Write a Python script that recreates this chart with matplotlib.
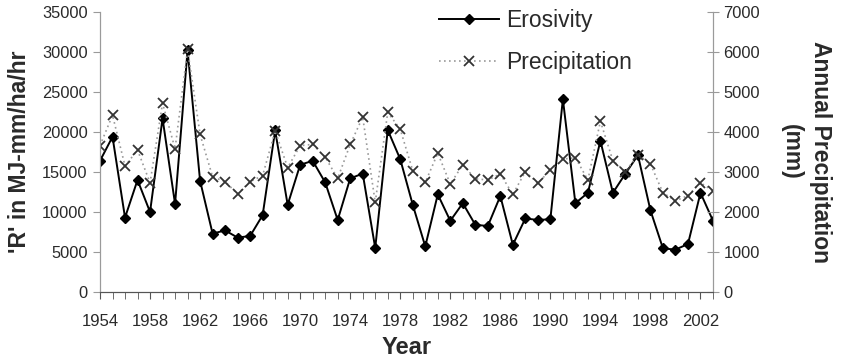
import numpy as np
import matplotlib
matplotlib.use("Agg")
import matplotlib.pyplot as plt
from matplotlib.ticker import MultipleLocator, FixedLocator

# --- data ---
years = list(range(1954, 2004))
erosivity = [16400, 19400, 9300, 14000, 10000, 21700, 11000, 30200, 13900, 7300,
             7700, 6800, 7000, 9600, 20200, 10900, 15900, 16400, 13700, 9000,
             14200, 14800, 5500, 20250, 16600, 10900, 5700, 12200, 8900, 11100,
             8400, 8250, 12000, 5900, 9200, 9000, 9100, 24100, 11100, 12400,
             18900, 12400, 14800, 17100, 10200, 5450, 5300, 6000, 12400, 8900]
precip = [3660, 4420, 3150, 3550, 2730, 4720, 3580, 6070, 3940, 2880,
          2760, 2450, 2760, 2910, 4030, 3110, 3660, 3690, 3370, 2840,
          3690, 4370, 2240, 4490, 4070, 3030, 2740, 3470, 2700, 3180,
          2830, 2800, 2950, 2440, 3010, 2720, 3050, 3320, 3360, 2800,
          4270, 3280, 3010, 3430, 3200, 2480, 2280, 2410, 2730, 2530]
year_ticks = list(range(1954, 2003, 4))

FONT = ["Liberation Sans", "DejaVu Sans"]
plt.rcParams["font.family"] = FONT
TXT = "#2a2a2a"; AXC = "#9a9a9a"

fig = plt.figure(figsize=(8.45, 3.62), dpi=100)
ax = fig.add_axes([100/845, 70/362, 613/845, 280/362])
ax2 = ax.twinx()

l1, = ax.plot(years, erosivity, color="black", lw=1.4, marker="D", ms=5.5,
              mfc="black", mec="black", label="Erosivity", zorder=3)
l2, = ax2.plot(years, precip, color="#9a9a9a", lw=1.2, ls=(0, (1, 2)), marker="x",
               ms=7.5, mec="#333333", mew=1.3, label="Precipitation", zorder=2)

ax.set_xlim(1954, 2003)
ax.set_ylim(0, 35000); ax2.set_ylim(0, 7000)
ax.set_yticks(range(0, 35001, 5000)); ax2.set_yticks(range(0, 7001, 1000))
ax.xaxis.set_major_locator(FixedLocator(year_ticks))
ax.xaxis.set_minor_locator(MultipleLocator(1))

for a in (ax, ax2):
    a.spines["top"].set_visible(False)
    a.spines["left"].set_color(AXC); a.spines["right"].set_color(AXC)
    a.spines["bottom"].set_color("#555555")
    a.patch.set_visible(False)
ax.tick_params(axis="y", direction="out", length=5, color=AXC, labelsize=11.8,
               labelcolor=TXT, pad=4)
ax2.tick_params(axis="y", direction="inout", length=9, color=AXC, labelsize=11.8,
                labelcolor=TXT, pad=3)
ax.tick_params(axis="x", which="both", direction="out", length=5, color="#555555",
               labelsize=12, labelcolor=TXT, pad=11)

ax.set_xlabel("Year", fontsize=17, fontweight="bold", color=TXT, labelpad=5)
ax.set_ylabel("'R' in MJ-mm/ha/hr", fontsize=16.5, fontweight="bold", color=TXT, labelpad=8)
ax2.set_ylabel("Annual Precipitation\n(mm)", fontsize=16.5, fontweight="bold", color=TXT,
               rotation=270, labelpad=52, linespacing=1.35)

leg = ax2.legend([l1, l2], ["Erosivity", "Precipitation"], loc="upper left",
                 bbox_to_anchor=(0.52, 1.086), frameon=False, fontsize=16.5,
                 handlelength=2.6, handletextpad=0.3, labelspacing=0.85)
for t in leg.get_texts():
    t.set_color(TXT)

fig.savefig("out.png", dpi=100)
